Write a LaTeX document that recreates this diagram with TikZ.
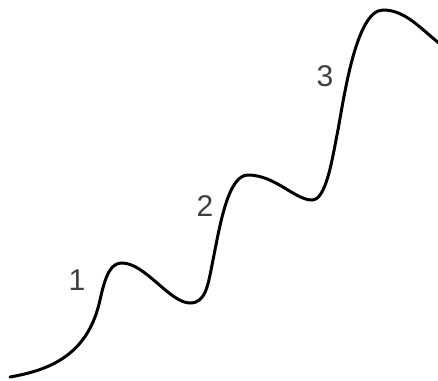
\documentclass[tikz,border=0pt]{standalone}
\usepackage{fontspec}
\setmainfont{Liberation Sans}
\definecolor{labelgray}{RGB}{64,64,64}

\begin{document}
\begin{tikzpicture}[x=1pt,y=-1pt,
    stagelabel/.style={text=labelgray,font=\fontsize{30}{30}\selectfont,inner sep=0pt}]
  \useasboundingbox (0,0) rectangle (438,380);
  % the rising curve
  \draw[line width=3pt,line cap=round]
    (10,377) .. controls (50,370) and (88,355) .. (100,300)
             .. controls (106,272) and (112,263) .. (122,263)
             .. controls (145,263) and (170,303) .. (190,303)
             .. controls (206,303) and (208,285) .. (213,260)
             .. controls (220,225) and (228,175) .. (248,175)
             .. controls (275,175) and (295,200) .. (312,200)
             .. controls (326,200) and (332,160) .. (337,135)
             .. controls (343,105) and (355,10) .. (383,10)
             .. controls (405,10) and (420,28) .. (440,44);
  % labels
  \node[stagelabel] (one) at (77,280) {1};
  \node[stagelabel] (two) at (205,206) {2};
  \node[stagelabel] (three) at (325,76) {3};
\end{tikzpicture}
\end{document}
